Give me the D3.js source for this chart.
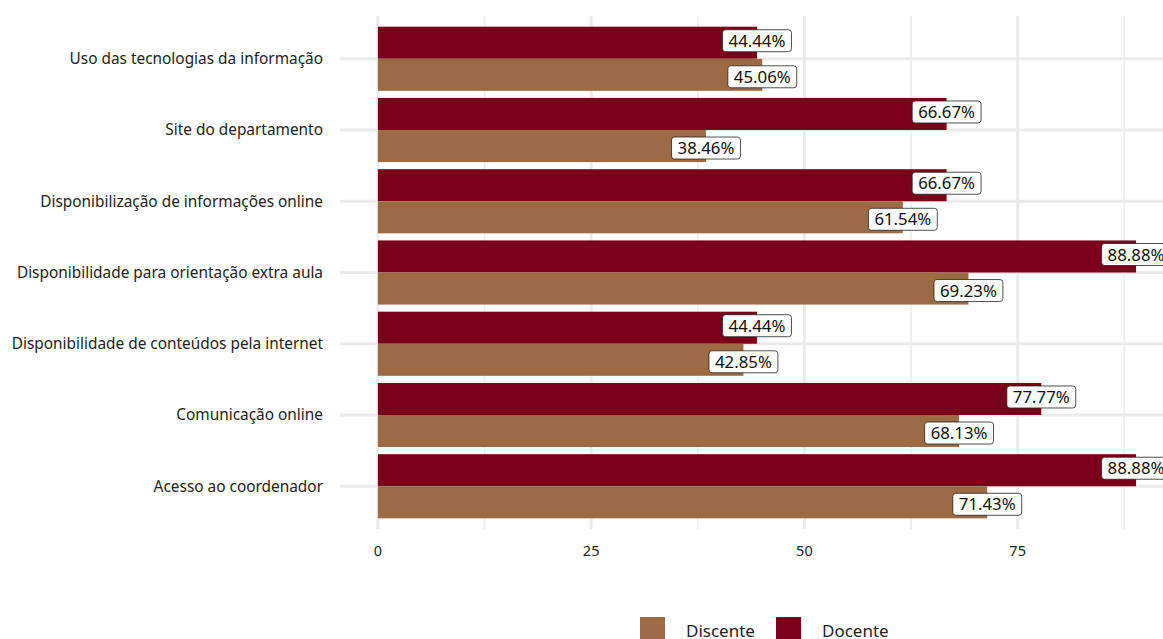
<!DOCTYPE html>
<html>
<head>
<meta charset="utf-8">
<script src="https://cdn.jsdelivr.net/npm/d3@7"></script>
<style>
  body { margin: 0; background: #fff; }
  text { font-family: "Noto Sans", "Open Sans", sans-serif; }
</style>
</head>
<body>
<div id="chart"></div>
<script>
// dados (de cima para baixo)
const categorias = [
  "Uso das tecnologias da informação",
  "Site do departamento",
  "Disponibilização de informações online",
  "Disponibilidade para orientação extra aula",
  "Disponibilidade de conteúdos pela internet",
  "Comunicação online",
  "Acesso ao coordenador"
];
const grupos = ["Docente", "Discente"];
const docente = [44.44, 66.67, 66.67, 88.88, 44.44, 77.77, 88.88];
const discente = [45.06, 38.46, 61.54, 69.23, 42.85, 68.13, 71.43];
const ticksX = [0, 25, 50, 75];

const cores = { "Docente": "#7a0019", "Discente": "#9c6b43" };

const W = 1163, H = 639;
const PAINEL = { left: 340, right: 1174, top: 16, bottom: 529 };

const svg = d3.select("#chart").append("svg")
  .attr("width", W).attr("height", H);

const x = d3.scaleLinear().domain([-4.444, 93.33]).range([PAINEL.left, PAINEL.right]);

// escala discreta com expansão 0.6 como no ggplot
const y = d3.scalePoint().domain(categorias)
  .range([PAINEL.top, PAINEL.bottom]).padding(0.6);
const passo = y.step();
const y2 = d3.scaleBand().domain(grupos).range([-passo * 0.45, passo * 0.45]);

// grades
const grade = svg.append("g");
const menores = d3.range(12.5, 93, 25);
grade.selectAll(".gmin").data(menores).join("line")
  .attr("x1", d => x(d)).attr("x2", d => x(d))
  .attr("y1", PAINEL.top).attr("y2", PAINEL.bottom)
  .attr("stroke", "#ebebeb").attr("stroke-width", 1.5);
grade.selectAll(".gmaj").data(ticksX.concat([100])).join("line")
  .attr("x1", d => x(d)).attr("x2", d => x(d))
  .attr("y1", PAINEL.top).attr("y2", PAINEL.bottom)
  .attr("stroke", "#ebebeb").attr("stroke-width", 3);
grade.selectAll(".gy").data(categorias).join("line")
  .attr("x1", PAINEL.left).attr("x2", W)
  .attr("y1", d => y(d)).attr("y2", d => y(d))
  .attr("stroke", "#ebebeb").attr("stroke-width", 3);

// barras
const linhas = categorias.map((c, i) => [
  { cat: c, grupo: "Docente", valor: docente[i] },
  { cat: c, grupo: "Discente", valor: discente[i] }
]).flat();

svg.append("g").selectAll("rect").data(linhas).join("rect")
  .attr("x", x(0))
  .attr("y", d => y(d.cat) + y2(d.grupo))
  .attr("width", d => x(d.valor) - x(0))
  .attr("height", y2.bandwidth())
  .attr("fill", d => cores[d.grupo]);

// rótulos
const rotulos = svg.append("g").selectAll("g").data(linhas).join("g")
  .attr("transform", d => {
    const cy = y(d.cat) + y2(d.grupo) + y2.bandwidth() / 2 + (d.grupo === "Docente" ? -2 : 2);
    return `translate(${x(d.valor)},${cy})`;
  });
rotulos.append("text")
  .attr("text-anchor", "middle").attr("dy", "0.36em")
  .attr("font-size", 16.8).attr("fill", "#111")
  .text(d => d.valor.toFixed(2) + "%");
rotulos.each(function() {
  const g = d3.select(this);
  const bb = g.select("text").node().getBBox();
  g.insert("rect", "text")
    .attr("x", bb.x - 6).attr("y", -11)
    .attr("width", bb.width + 12).attr("height", 22)
    .attr("rx", 3)
    .attr("fill", "#fff").attr("stroke", "#222").attr("stroke-width", 0.8);
});

// eixo x
svg.append("g").selectAll("text").data(ticksX).join("text")
  .attr("x", d => x(d)).attr("y", 556)
  .attr("text-anchor", "middle").attr("font-size", 14.5).attr("fill", "#222")
  .text(d => d);

// eixo y
svg.append("g").selectAll("text").data(categorias).join("text")
  .attr("x", 323).attr("y", d => y(d)).attr("dy", "0.35em")
  .attr("text-anchor", "end").attr("font-size", 15.4).attr("fill", "#222")
  .text(d => d);

// legenda
const legenda = [
  { grupo: "Discente", x: 640 },
  { grupo: "Docente", x: 776 }
];
const lg = svg.append("g").selectAll("g").data(legenda).join("g")
  .attr("transform", d => `translate(${d.x},617)`);
lg.append("rect").attr("width", 25).attr("height", 24)
  .attr("fill", d => cores[d.grupo]);
lg.append("text").attr("x", 46).attr("y", 20)
  .attr("font-size", 17).attr("fill", "#222")
  .text(d => d.grupo);
</script>
</body>
</html>
